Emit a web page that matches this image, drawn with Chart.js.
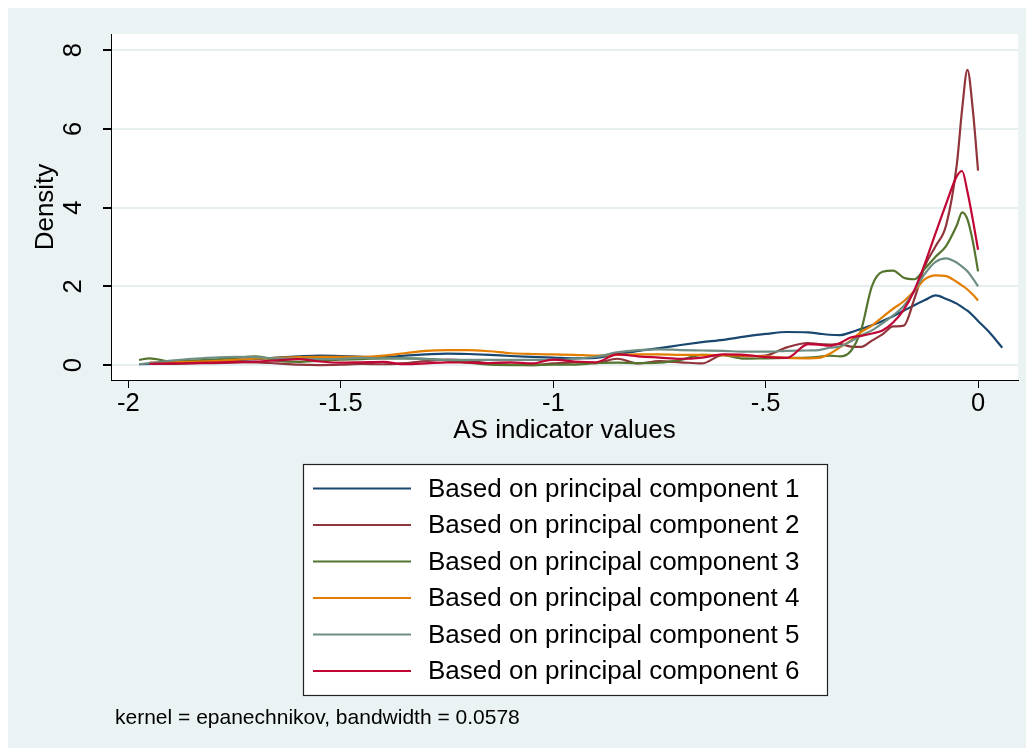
<!DOCTYPE html>
<html>
<head>
<meta charset="utf-8">
<script src="https://cdn.jsdelivr.net/npm/chart.js@4"></script>
<style>
body{margin:0;background:#fff}
#wrap{width:1034px;height:756px}
</style>
</head>
<body>
<div id="wrap"><canvas id="densityChart" width="1034" height="756"></canvas></div>
<script>
// x positions of the density estimates (AS indicator values)
var xGrid = [-1.975,-1.95,
  -1.9,-1.85,-1.8,-1.75,-1.7,-1.65,-1.6,-1.55,-1.5,-1.45,
  -1.4,-1.35,-1.3,-1.25,-1.2,-1.15,-1.1,-1.05,-1,-0.95,
  -0.9,-0.85,-0.8,-0.75,-0.7,-0.65,-0.6,-0.55,-0.5,-0.45,-0.4,
  -0.375,-0.35,-0.325,-0.3,-0.275,-0.25,-0.225,-0.2,-0.175,-0.15,-0.125,-0.1,-0.075,-0.05,
  -0.0375,-0.025,-0.0125,0,0.025,0.057]

var pc1 = [0.02,0.03,
  0.05,0.07,0.09,0.12,0.15,0.19,0.22,0.24,0.23,0.21,
  0.20,0.24,0.27,0.29,0.28,0.26,0.23,0.21,0.19,0.17,
  0.18,0.27,0.36,0.43,0.51,0.58,0.64,0.72,0.79,0.84,0.83,
  0.80,0.77,0.76,0.83,0.92,1.01,1.12,1.24,1.38,1.52,1.65,1.77,1.68,1.56,
  1.47,1.38,1.26,1.12,0.85,0.44]

var pc2 = [null,0.04,
  0.03,0.04,0.05,0.06,0.07,0.04,0.01,0.00,0.01,0.03,
  0.02,0.05,0.10,0.14,0.11,0.04,0.01,0.00,0.04,0.07,
  0.05,0.16,0.04,0.10,0.07,0.04,0.26,0.22,0.24,0.45,0.56,
  0.53,0.52,0.53,0.47,0.46,0.62,0.78,0.98,1.00,1.68,2.52,3.02,3.56,5.10,
  6.50,7.50,6.50,4.94,null,null]

var pc3 = [0.13,0.17,
  0.09,0.11,0.14,0.18,0.22,0.11,0.08,0.11,0.14,0.15,
  0.17,0.17,0.16,0.12,0.06,0.01,0.00,0.00,0.01,0.01,
  0.05,0.06,0.05,0.06,0.13,0.26,0.25,0.16,0.17,0.18,0.19,
  0.21,0.24,0.22,0.35,0.90,2.00,2.37,2.40,2.22,2.18,2.45,2.75,3.03,3.55,
  3.88,3.70,3.15,2.38,null,null]

var pc4 = [null,0.06,
  0.07,0.08,0.10,0.13,0.16,0.18,0.20,0.21,0.21,0.21,
  0.24,0.30,0.36,0.38,0.38,0.35,0.30,0.28,0.27,0.26,
  0.24,0.26,0.27,0.27,0.26,0.26,0.25,0.24,0.22,0.18,0.17,
  0.18,0.28,0.45,0.62,0.84,1.00,1.22,1.43,1.62,1.88,2.18,2.28,2.26,2.11,
  2.02,1.92,1.79,1.64,null,null]

var pc5 = [0.02,0.05,
  0.11,0.16,0.19,0.21,0.20,0.17,0.16,0.15,0.16,0.18,
  0.17,0.17,0.15,0.13,0.13,0.13,0.13,0.13,0.13,0.16,
  0.21,0.32,0.38,0.40,0.38,0.37,0.36,0.34,0.34,0.36,0.37,
  0.38,0.44,0.47,0.60,0.75,0.88,1.06,1.26,1.50,1.88,2.32,2.62,2.71,2.60,
  2.50,2.38,2.20,2.00,null,null]

var pc6 = [null,0.03,
  0.04,0.05,0.06,0.08,0.09,0.12,0.15,0.09,0.06,0.07,
  0.08,0.02,0.04,0.07,0.06,0.05,0.07,0.04,0.14,0.09,
  0.07,0.27,0.22,0.19,0.16,0.19,0.27,0.26,0.20,0.18,0.53,
  0.52,0.49,0.56,0.70,0.74,0.80,0.88,1.08,1.40,1.90,2.58,3.35,4.10,4.80,
  4.93,4.40,3.70,2.93,null,null]

var seriesNames = ['Based on principal component 1','Based on principal component 2','Based on principal component 3',
  'Based on principal component 4','Based on principal component 5','Based on principal component 6']
var seriesColors = ['#1a476f','#90353b','#55752f','#e37e00','#6e8e84','#c10534']
var seriesValues = [pc1, pc2, pc3, pc4, pc5, pc6]

var yTicks = [0,2,4,6,8]
var xTicks = [-2,-1.5,-1,-0.5,0]
var xTickLabels = ['-2','-1.5','-1','-.5','0']
var xTitle = 'AS indicator values'
var yTitle = 'Density'
var noteText = 'kernel = epanechnikov, bandwidth = 0.0578'

var bgColor = '#eaf2f3'
var fontFam = '"Liberation Sans", Arial, sans-serif'

var datasets = seriesValues.map(function(vals, i){
  return {
    label: seriesNames[i],
    data: xGrid.map(function(x, j){ return {x: x, y: vals[j]} }),
    borderColor: seriesColors[i],
    borderWidth: 2.2,
    pointRadius: 0,
    fill: false,
    cubicInterpolationMode: 'monotone',
    order: 6 - i
  }
})

var stataPlugin = {
  id: 'stataLook',
  beforeDraw: function(chart){
    var c = chart.ctx, a = chart.chartArea
    c.save()
    c.fillStyle = '#fff'
    c.fillRect(0, 0, chart.width, chart.height)
    c.fillStyle = bgColor
    c.fillRect(8, 8, chart.width - 16, chart.height - 16)
    c.fillStyle = '#fff'
    c.fillRect(a.left, a.top, a.right - a.left, a.bottom - a.top)
    c.restore()
  },
  afterDraw: function(chart){
    var c = chart.ctx, a = chart.chartArea, ys = chart.scales.y
    c.save()
    c.fillStyle = '#000'
    c.textAlign = 'center'
    c.textBaseline = 'middle'
    // rotated y tick labels
    c.font = '25.5px ' + fontFam
    yTicks.forEach(function(v){
      c.save()
      c.translate(74, ys.getPixelForValue(v))
      c.rotate(-Math.PI/2)
      c.fillText(String(v), 0, 0)
      c.restore()
    })
    // y title
    c.font = '26px ' + fontFam
    c.save()
    c.translate(46, (a.top + a.bottom)/2)
    c.rotate(-Math.PI/2)
    c.fillText(yTitle, 0, 0)
    c.restore()

    // legend box
    var lx = 303, ly = 464, lw = 524, lh = 231
    c.fillStyle = '#fff'
    c.fillRect(lx, ly, lw, lh)
    c.strokeStyle = '#222'
    c.lineWidth = 1.2
    c.strokeRect(lx + 0.5, ly + 0.5, lw, lh)
    c.textAlign = 'left'
    c.font = '26px ' + fontFam
    seriesNames.forEach(function(name, i){
      var ry = 488.5 + i*36.5
      c.strokeStyle = seriesColors[i]
      c.lineWidth = 2.2
      c.beginPath()
      c.moveTo(313, ry)
      c.lineTo(411, ry)
      c.stroke()
      c.fillStyle = '#000'
      c.fillText(name, 428, ry + 1)
    })

    // note
    c.font = '21px ' + fontFam
    c.fillText(noteText, 115, 718)
    c.restore()
  }
}

new Chart(document.getElementById('densityChart'), {
  type: 'line',
  data: { datasets: datasets },
  options: {
    responsive: false,
    animation: false,
    devicePixelRatio: 1,
    layout: { padding: { left: 0, top: 34, right: 16, bottom: 306 } },
    plugins: { legend: { display: false }, tooltip: { enabled: false } },
    scales: {
      x: {
        type: 'linear',
        min: -2.041,
        max: 0.094,
        afterFit: function(s){ s.height = 70 },
        afterBuildTicks: function(s){ s.ticks = xTicks.map(function(v){ return {value: v} }) },
        ticks: {
          color: '#000',
          padding: 1,
          maxRotation: 0,
          font: { family: fontFam, size: 25.5 },
          callback: function(v){ return xTickLabels[xTicks.indexOf(v)] }
        },
        grid: { drawOnChartArea: false, drawTicks: true, tickLength: 8, tickColor: '#000' },
        border: { display: true, color: '#000', width: 1 },
        title: { display: true, text: xTitle, color: '#000', font: { family: fontFam, size: 26 }, padding: { top: 0, bottom: 4 } }
      },
      y: {
        min: -0.38,
        max: 8.41,
        afterFit: function(s){ s.width = 111 },
        afterBuildTicks: function(s){ s.ticks = yTicks.map(function(v){ return {value: v} }) },
        ticks: { display: false },
        grid: { color: '#e6eef0', lineWidth: 2, drawTicks: true, tickLength: 8, tickColor: '#000' },
        border: { display: true, color: '#000', width: 1 }
      }
    }
  },
  plugins: [stataPlugin]
})
</script>
</body>
</html>
